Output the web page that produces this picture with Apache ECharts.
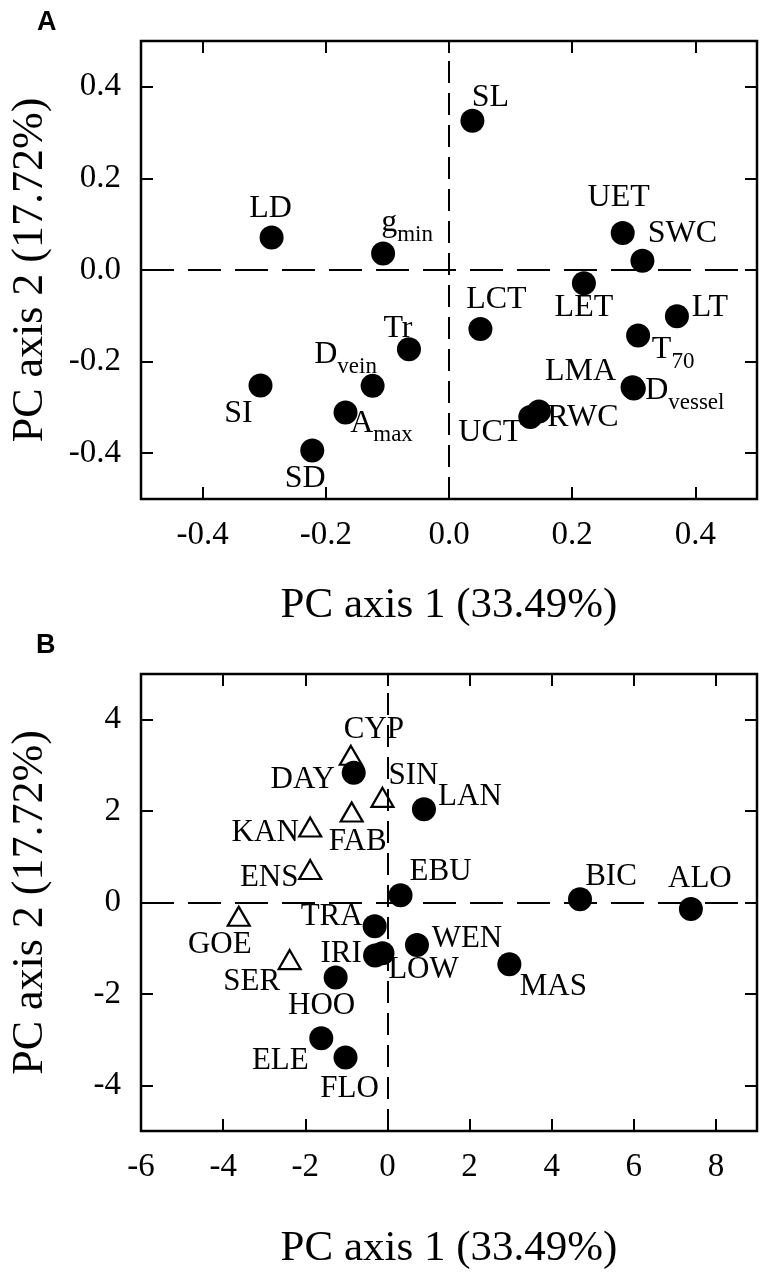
<!DOCTYPE html>
<html lang="en">
<head>
<meta charset="UTF-8">
<title>PCA</title>
<script src="https://cdn.jsdelivr.net/npm/echarts@6/dist/echarts.min.js"></script>
<style>
  html, body { margin: 0; padding: 0; background: #fff; }
  #chart { width: 760px; height: 1277px; }
</style>
</head>
<body>
<div id="chart"></div>
<script>
// A: trait loadings
const traitNames = ['SL', 'LD', 'g_min', 'UET', 'SWC', 'LET', 'LT', 'LCT', 'T_70', 'Tr', 'D_vein', 'SI', 'A_max', 'SD', 'UCT', 'RWC', 'LMA', 'D_vessel'];
const traitPC1 = [0.038, -0.288, -0.107, 0.282, 0.314, 0.219, 0.370, 0.051, 0.307, -0.065, -0.124, -0.306, -0.168, -0.222, 0.132, 0.146, 0.298, 0.300];
const traitPC2 = [0.326, 0.071, 0.036, 0.081, 0.020, -0.029, -0.101, -0.129, -0.143, -0.173, -0.253, -0.252, -0.311, -0.394, -0.321, -0.309, -0.256, -0.259];

// B: population scores (open triangles / filled circles)
const triNames = ['CYP', 'SIN', 'FAB', 'KAN', 'ENS', 'GOE', 'SER'];
const triPC1 = [-0.89, -0.12, -0.87, -1.88, -1.88, -3.62, -2.38];
const triPC2 = [3.22, 2.30, 1.98, 1.65, 0.72, -0.30, -1.25];
const dotNames = ['DAY', 'LAN', 'EBU', 'BIC', 'ALO', 'TRA', 'WEN', 'IRI', 'LOW', 'MAS', 'HOO', 'ELE', 'FLO'];
const dotPC1 = [-0.82, 0.89, 0.32, 4.69, 7.39, -0.31, 0.72, -0.30, -0.12, 2.97, -1.26, -1.61, -1.02];
const dotPC2 = [2.84, 2.04, 0.16, 0.07, -0.14, -0.52, -0.93, -1.16, -1.11, -1.35, -1.64, -2.97, -3.39];

const xTitle = 'PC axis 1 (33.49%)';
const yTitle = 'PC axis 2 (17.72%)';
const panelLetters = ['A', 'B'];

// label placement (label centre relative to marker centre, px)
const labelOffset = {
  SL: [18, -23], LD: [-1, -29], g_min: [24, -31], UET: [-4, -35], SWC: [40, -27], LET: [0, 24],
  LT: [33, -9], LCT: [16, -29], T_70: [35, 14], Tr: [-11, -21], D_vein: [-27, -31], SI: [-22, 28],
  A_max: [36, 11], SD: [-7, 28], UCT: [-40, 16], RWC: [44, 6], LMA: [-52, -16], D_vessel: [51, 2],
  CYP: [23, -25], SIN: [31, -22], FAB: [6, 30], KAN: [-45, 6], ENS: [-41, 8], GOE: [-19, 29], SER: [-38, 22],
  DAY: [-51, 7], LAN: [46, -12], EBU: [40, -23], BIC: [31, -22], ALO: [9, -30], TRA: [-43, -9],
  WEN: [50, -6], IRI: [-34, -2], LOW: [41, 17], MAS: [44, 23], HOO: [-14, 28], ELE: [-41, 23], FLO: [4, 31]
};

const serif = 'Liberation Serif';

// subscripted names like g_min -> g + small "min" dropped below the baseline
function labelText(name) {
  if (name.indexOf('_') < 0) return name;
  const parts = name.split('_');
  return '{m|' + parts[0] + '}{s|' + parts[1] + '}';
}
function points(names, xs, ys) {
  return names.map((n, i) => ({ name: n, value: [xs[i], ys[i]], label: { offset: labelOffset[n] || [0, 0] } }));
}

function labelStyle(size) {
  return {
    show: true,
    position: 'inside',
    align: 'center',
    verticalAlign: 'middle',
    formatter: p => labelText(p.name),
    color: '#000',
    fontFamily: serif,
    fontSize: size,
    lineHeight: size,
    rich: {
      m: { fontFamily: serif, fontSize: size, lineHeight: size, color: '#000' },
      s: { fontFamily: serif, fontSize: 23, lineHeight: 23, padding: [24, 0, 0, 0], color: '#000' }
    }
  };
}

const tickStyle = { show: true, inside: true, length: 12, lineStyle: { color: '#000', width: 2 } };

function xAxes(gi, min, max, interval, fmt, gap) {
  const base = {
    gridIndex: gi, type: 'value', min: min, max: max, interval: interval,
    splitNumber: 5, splitLine: { show: false }, axisLine: { show: false, onZero: false },
    axisTick: tickStyle
  };
  return [
    Object.assign({}, base, {
      position: 'bottom',
      axisLabel: { show: true, margin: 20, color: '#000', fontFamily: serif, fontSize: 33, formatter: fmt, showMinLabel: gi === 1, showMaxLabel: false },
      name: xTitle, nameLocation: 'middle', nameGap: gap,
      nameTextStyle: { color: '#000', fontFamily: serif, fontSize: 43 }
    }),
    Object.assign({}, base, { position: 'top', axisLabel: { show: false } })
  ];
}
function yAxes(gi, min, max, fmt) {
  const base = {
    gridIndex: gi, type: 'value', min: min, max: max, splitNumber: 5,
    splitLine: { show: false }, axisLine: { show: false, onZero: false },
    axisTick: tickStyle
  };
  return [
    Object.assign({}, base, {
      position: 'left',
      axisLabel: { show: true, margin: 20, color: '#000', fontFamily: serif, fontSize: 33, formatter: fmt, showMinLabel: false, showMaxLabel: false },
      name: yTitle, nameLocation: 'middle', nameGap: 89,
      nameTextStyle: { color: '#000', fontFamily: serif, fontSize: 44 }
    }),
    Object.assign({}, base, { position: 'right', axisLabel: { show: false } })
  ];
}

function zeroLines(xi, yi) {
  return {
    type: 'scatter', data: [], xAxisIndex: xi, yAxisIndex: yi, z: 1, silent: true,
    markLine: {
      silent: true, symbol: ['none', 'none'], label: { show: false }, animation: false,
      data: [
        { yAxis: 0, lineStyle: { color: '#000', width: 2, type: [33, 14] } },
        { xAxis: 0, lineStyle: { color: '#000', width: 2, type: [22, 10] } }
      ]
    }
  };
}

const fmt1 = v => v.toFixed(1);
const fmt0 = v => String(Math.round(v));
const letterStyle = { color: '#000', fontFamily: 'Liberation Sans', fontWeight: 'bold', fontSize: 27 };

const chart = echarts.init(document.getElementById('chart'), null, { renderer: 'canvas' });
chart.setOption({
  animation: false,
  backgroundColor: '#fff',
  // panel letters
  title: [
    { text: panelLetters[0], left: 32, top: 4, textStyle: letterStyle },
    { text: panelLetters[1], left: 31, top: 627, textStyle: letterStyle }
  ],
  grid: [
    { left: 141, top: 41, width: 616, height: 458, show: true, borderColor: '#000', borderWidth: 2.5, backgroundColor: 'transparent' },
    { left: 141, top: 674, width: 616, height: 457, show: true, borderColor: '#000', borderWidth: 2.5, backgroundColor: 'transparent' }
  ],
  xAxis: xAxes(0, -0.5, 0.5, null, fmt1, 85).concat(xAxes(1, -6, 9, 2, fmt0, 96)),
  yAxis: yAxes(0, -0.5, 0.5, fmt1).concat(yAxes(1, -5, 5, fmt0)),
  series: [
    zeroLines(0, 0),
    {
      type: 'scatter', xAxisIndex: 0, yAxisIndex: 0, z: 3,
      symbol: 'circle', symbolSize: 24,
      itemStyle: { color: '#000', opacity: 1 },
      label: labelStyle(32),
      emphasis: { disabled: true },
      data: points(traitNames, traitPC1, traitPC2)
    },
    zeroLines(2, 2),
    {
      type: 'scatter', xAxisIndex: 2, yAxisIndex: 2, z: 3,
      symbol: 'triangle', symbolSize: [22, 19],
      itemStyle: { color: '#fff', borderColor: '#000', borderWidth: 2.2, opacity: 1 },
      label: labelStyle(31),
      emphasis: { disabled: true },
      data: points(triNames, triPC1, triPC2)
    },
    {
      type: 'scatter', xAxisIndex: 2, yAxisIndex: 2, z: 3,
      symbol: 'circle', symbolSize: 24,
      itemStyle: { color: '#000', opacity: 1 },
      label: labelStyle(31),
      emphasis: { disabled: true },
      data: points(dotNames, dotPC1, dotPC2)
    }
  ]
});
</script>
</body>
</html>
